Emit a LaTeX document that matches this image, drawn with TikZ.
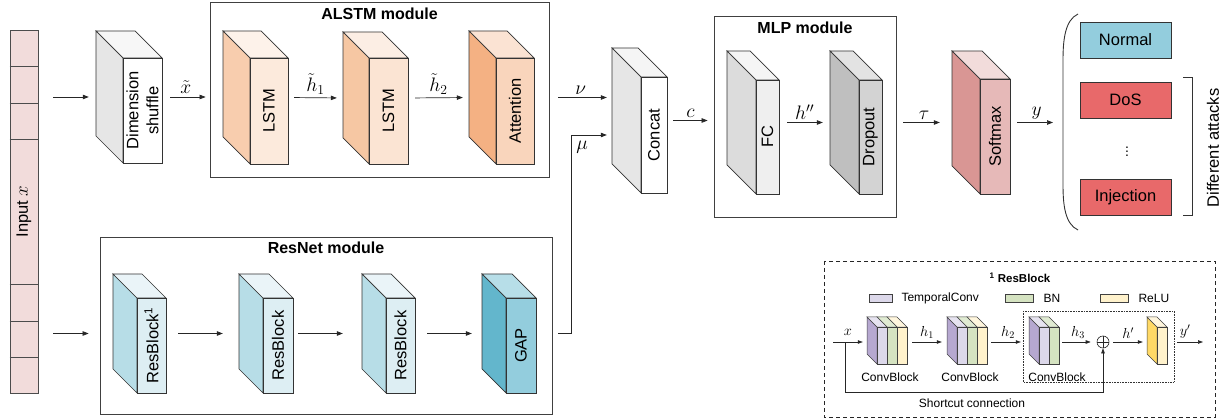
\documentclass[tikz,border=0pt]{standalone}
\usepackage{fix-cm}
\usepackage[no-math]{fontspec}
\setmainfont{Liberation Sans}
\usetikzlibrary{arrows.meta,fit}
\definecolor{inputc}{HTML}{F2DCDB}
\definecolor{dshf}{HTML}{FFFFFF}\definecolor{dshs}{HTML}{E6E6E6}\definecolor{dsht}{HTML}{F7F7F7}
\definecolor{lsaf}{HTML}{FCEADC}\definecolor{lsas}{HTML}{F8CDAE}\definecolor{lsat}{HTML}{FDF2EA}
\definecolor{lsbf}{HTML}{FBE4D3}\definecolor{lsbs}{HTML}{F6C7A3}\definecolor{lsbt}{HTML}{FCEEE4}
\definecolor{atnf}{HTML}{F9D5BC}\definecolor{atns}{HTML}{F4B183}\definecolor{atnt}{HTML}{FBE3D3}
\definecolor{cctf}{HTML}{FFFFFF}\definecolor{ccts}{HTML}{E6E6E6}\definecolor{cctt}{HTML}{F5F5F5}
\definecolor{fccf}{HTML}{EFEFEF}\definecolor{fccs}{HTML}{DCDCDC}\definecolor{fcct}{HTML}{F5F5F5}
\definecolor{drof}{HTML}{D3D3D3}\definecolor{dros}{HTML}{BFBFBF}\definecolor{drot}{HTML}{E3E3E3}
\definecolor{smxf}{HTML}{E6B9B8}\definecolor{smxs}{HTML}{D99694}\definecolor{smxt}{HTML}{F2DCDB}
\definecolor{rbcf}{HTML}{DDEEF3}\definecolor{rbcs}{HTML}{B7DDE7}\definecolor{rbct}{HTML}{EAF4F8}
\definecolor{gpcf}{HTML}{93CDDD}\definecolor{gpcs}{HTML}{63B6CC}\definecolor{gpct}{HTML}{B7DEE8}
\definecolor{normalc}{HTML}{93CDDD}\definecolor{attackc}{HTML}{E8696A}
\definecolor{lav}{HTML}{DCD8EA}\definecolor{pur}{HTML}{B6A8D0}\definecolor{lavt}{HTML}{E6E3F0}
\definecolor{grn}{HTML}{D5E3C1}\definecolor{grnt}{HTML}{E0EBD2}
\definecolor{yel}{HTML}{FFF2CC}\definecolor{yelt}{HTML}{FFF6DD}\definecolor{yeld}{HTML}{FFD966}
\tikzset{
  boxline/.style={draw=black!80,line width=0.7pt},
  thinline/.style={draw=black!75,line width=0.5pt},
  arr/.style={-{Triangle[length=6pt,width=4.5pt]},line width=0.7pt,draw=black!85},
  sarr/.style={-{Triangle[length=5pt,width=3.5pt]},line width=0.6pt,draw=black!85},
  module/.style={draw=black!75,line width=0.8pt,fill=white,inner sep=0pt},
  title/.style={font=\fontsize{16}{18}\selectfont\bfseries},
  lab/.style={font=\fontsize{16.5}{20}\selectfont},
  mathlab/.style={font=\fontsize{19.5}{21}\selectfont,inner sep=1pt},
  small/.style={font=\fontsize{12}{14}\selectfont},
  smath/.style={font=\fontsize{14.5}{16}\selectfont,inner sep=1pt},
  cls/.style={draw=black!80,line width=0.8pt,minimum width=91pt,minimum height=36pt,inner sep=0pt,font=\fontsize{16.5}{19}\selectfont},
}
% #1 name, #2 x, #3 y (front top-left), #4 w, #5 h, #6 depth, #7 colour prefix, #8 label
\newcommand\cube[8]{%
  \filldraw[boxline,fill=#7s] (#2,#3) -- ++(-#6,-#6) -- ++(0,#5) -- ++(#6,#6) -- cycle;
  \filldraw[boxline,fill=#7t] (#2,#3) -- ++(-#6,-#6) -- ++(#4,0) -- ++(#6,#6) -- cycle;
  \filldraw[boxline,fill=#7f] (#2,#3) rectangle ++(#4,#5);
  \node[rotate=90,lab,align=center] at ({#2+#4/2},{#3+#5/2}) {#8};
  \path (#2-#6,#3-#6) coordinate (#1-nw) (#2+#4,#3+#5) coordinate (#1-se);
  \node[fit=(#1-nw)(#1-se),inner sep=0pt] (#1) {};
}
% x y w h d front side top
\newcommand\slab[8]{%
  \filldraw[thinline,fill=#7] (#1,#2) -- ++(-#5,-#5) -- ++(0,#4) -- ++(#5,#5) -- cycle;
  \filldraw[thinline,fill=#8] (#1,#2) -- ++(-#5,-#5) -- ++(#3,0) -- ++(#5,#5) -- cycle;
  \filldraw[thinline,fill=#6] (#1,#2) rectangle ++(#3,#4);
}
\begin{document}
\begin{tikzpicture}[x=1pt,y=-1pt]
\useasboundingbox (0,0) rectangle (1225,419);

% modules
\node[module,minimum width=339pt,minimum height=175pt] (alstm) at (379.5,89.5) {};
\node[title] at (379.5,14) {ALSTM module};
\node[module,minimum width=182pt,minimum height=201pt] (mlp) at (805,116.5) {};
\node[title] at (805,28) {MLP module};
\node[module,minimum width=452pt,minimum height=177pt] (resnet) at (326,325.5) {};
\node[title] at (326,248) {ResNet module};

% input column
\node[draw=black!70,fill=inputc,line width=0.8pt,minimum width=28pt,minimum height=363pt,inner sep=0pt] (input) at (24,211.5) {};
\foreach \yy in {66,103,139,284,321,357}
  \draw[black!70,line width=0.8pt] (input.west |- 0,\yy) -- (input.east |- 0,\yy);
\node[lab,rotate=90] at (input.center) {Input \fontsize{19}{20}\selectfont$x$};

% cubes
\cube{dim}{123}{58}{39}{105}{27}{dsh}{Dimension\\shuffle}
\cube{lstma}{250}{58}{38}{106}{27}{lsa}{LSTM}
\cube{lstmb}{369}{58}{39}{106}{26}{lsb}{LSTM}
\cube{att}{496}{58}{38}{106}{27}{atn}{Attention}
\cube{concat}{641}{77}{26}{116}{29}{cct}{Concat}
\cube{fc}{756}{80}{23}{114}{29}{fcc}{FC}
\cube{drop}{859}{80}{23}{114}{29}{dro}{Dropout}
\cube{soft}{980}{79}{30}{115}{28}{smx}{Softmax}
\cube{resa}{137}{298}{29}{95}{24}{rbc}{ResBlock\textsuperscript{1}}
\cube{resb}{263}{298}{30}{95}{24}{rbc}{ResBlock}
\cube{resc}{386}{298}{29}{95}{24}{rbc}{ResBlock}
\cube{gap}{506}{298}{30}{95}{24}{gpc}{GAP}

% top branch arrows
\draw[arr,shorten <=15pt,shorten >=7pt] (input.east |- dim.west) -- (dim.west);
\draw[arr,shorten <=8pt,shorten >=4pt] (dim.east) -- (dim.east -| alstm.west)
  node[midway,above=2pt,mathlab] {$\tilde{x}$};
\draw[arr,shorten <=6pt,shorten >=6pt] (lstma.east) -- (lstmb.west)
  node[midway,above=2pt,mathlab] {$\tilde{h}_1$};
\draw[arr,shorten <=7pt,shorten >=6pt] (lstmb.east) -- (att.west)
  node[midway,above=2pt,mathlab] {$\tilde{h}_2$};
\draw[arr,shorten <=9pt,shorten >=5pt] (att.east -| alstm.east) -- (att.east -| concat.west)
  node[midway,above=2pt,mathlab] {$\nu$};
\coordinate (mu) at (571,135);
\draw[arr,shorten <=6pt,shorten >=5pt] (gap.east -| resnet.east) -| (mu) -- (mu -| concat.west);
\node[mathlab] at (582,147) {$\mu$};
\draw[arr,shorten <=6pt,shorten >=6pt] (concat.east) -- (concat.east -| mlp.west)
  node[midway,above=2pt,mathlab] {$c$};
\draw[arr,shorten <=8pt,shorten >=7pt] (fc.east) -- (drop.west)
  node[midway,above=2pt,mathlab] {$h''$};
\draw[arr,shorten <=7pt,shorten >=12pt] (soft.west -| mlp.east) -- (soft.west)
  node[midway,above=2pt,mathlab] {$\tau$};
\coordinate (paren) at (1063,122.5);
\draw[arr,shorten <=7pt,shorten >=10pt] (soft.east) -- (paren)
  node[midway,above=2pt,mathlab] {$y$};

% resnet arrows
\draw[arr,shorten <=15pt,shorten >=11pt] (input.east |- resa.west) -- (resa.west -| resnet.west);
\draw[arr,shorten <=12pt,shorten >=16pt] (resa.east) -- (resb.west);
\draw[arr,shorten <=5pt,shorten >=19pt] (resb.east) -- (resc.west);
\draw[arr,shorten <=12pt,shorten >=10pt] (resc.east) -- (gap.west);

% output classes
\draw[line width=0.9pt,black!80] (1078,14) .. controls (1065,20) and (1063,40) .. (1063,60)
  -- (1063,185) .. controls (1063,205) and (1065,224) .. (1078,230);
\node[cls,fill=normalc] (normal) at (1125.5,40) {Normal};
\node[cls,fill=attackc] (dos) at (1125.5,100) {DoS};
\node[font=\fontsize{14}{15}\selectfont,inner sep=0pt] (dots) at (1127,149) {$\vdots$};
\node[cls,fill=attackc] (inj) at (1125.5,197) {Injection};
\draw[line width=0.8pt,black!80] (1183,77) -- (1192,77) -- (1192,215) -- (1183,215);
\node[lab,rotate=90] (diff) at (1213,148) {Different attacks};

% ResBlock inset
\draw[black!85,line width=0.8pt,dash pattern=on 4pt off 3pt] (824,261) rectangle (1215,417);
\node[font=\fontsize{11.5}{13}\selectfont\bfseries] at (1020,278) {\textsuperscript{1} ResBlock};
\filldraw[thinline,fill=lav] (869,294) rectangle (892,302);
\node[small,anchor=west] at (898,298) {TemporalConv};
\filldraw[thinline,fill=grn] (1005,294) rectangle (1033,302);
\node[small,anchor=west] at (1040,298) {BN};
\filldraw[thinline,fill=yel] (1100,294) rectangle (1128,302);
\node[small,anchor=west] at (1135,298) {ReLU};

\draw[densely dotted,line width=0.6pt,black!80] (1023,311) rectangle (1174,382);

\slab{897}{327}{10}{37}{10}{yel}{yel}{yelt}
\slab{887}{327}{10}{37}{10}{grn}{grn}{grnt}
\slab{877}{327}{10}{37}{10}{lav}{pur}{lavt}
\node[fit={(867,317)(907,364)},inner sep=0pt] (cba) {};
\slab{977}{327}{10}{37}{10}{yel}{yel}{yelt}
\slab{967}{327}{10}{37}{10}{grn}{grn}{grnt}
\slab{957}{327}{10}{37}{10}{lav}{pur}{lavt}
\node[fit={(947,317)(987,364)},inner sep=0pt] (cbb) {};
\slab{1049}{327}{10}{37}{10}{grn}{grn}{grnt}
\slab{1039}{327}{10}{37}{10}{lav}{pur}{lavt}
\node[fit={(1029,317)(1059,364)},inner sep=0pt] (cbc) {};
\slab{1157}{327}{10}{37}{10}{yel}{yeld}{yelt}
\node[fit={(1147,317)(1167,364)},inner sep=0pt] (relu) {};

\node[small] at (890,377) {ConvBlock};
\node[small] at (970,377) {ConvBlock};
\node[small] at (1057,377) {ConvBlock};

\node[draw=black!85,line width=0.6pt,circle,minimum size=12pt,inner sep=0pt] (plus) at (1103,342) {};
\draw[black!85,line width=0.6pt] (plus.north) -- (plus.south) (plus.west) -- (plus.east);

\coordinate (xin) at (833,342);
\coordinate (sc) at (845,342);
\coordinate (yout) at (1203,342);
\draw[sarr,shorten >=4pt] (xin) -- (xin -| cba.west);
\node[smath] at (848,332) {$x$};
\draw[sarr,shorten <=5pt,shorten >=5pt] (cba.east |- xin) -- (cbb.west |- xin)
  node[midway,above=2pt,smath] {$h_1$};
\draw[sarr,shorten <=4pt,shorten >=8pt] (cbb.east |- xin) -- (cbc.west |- xin)
  node[midway,above=2pt,smath] {$h_2$};
\draw[sarr,shorten <=3pt,shorten >=6pt] (cbc.east |- xin) -- (plus.west)
  node[midway,above=2pt,smath] {$h_3$};
\draw[sarr,shorten <=4pt,shorten >=4pt] (plus.east) -- (relu.west |- xin)
  node[midway,above=2pt,smath] {$h'$};
\draw[sarr,shorten <=10pt] (relu.east |- xin) -- (yout)
  node[midway,above=2pt,smath] {$y'$};
\draw[sarr] (sc) -- ++(0,50) -| (plus.south);
\node[small] at (972,403) {Shortcut connection};
\end{tikzpicture}
\end{document}
